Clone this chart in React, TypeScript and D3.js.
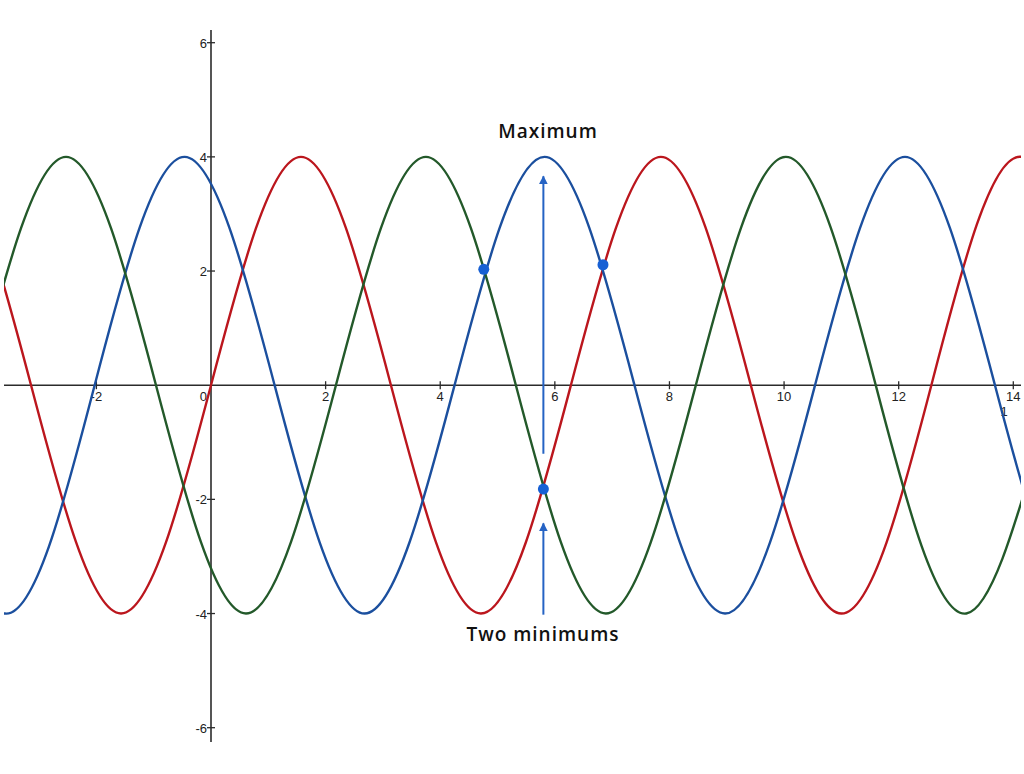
import * as d3 from 'd3';

// key points: peaks, troughs and axis crossings of each wave
const redX = [-6.28, -4.71, -3.14, -1.57, 0, 1.57, 3.14, 4.71, 6.28, 7.85, 9.42, 11.0, 12.57, 14.14, 15.71, 17.28];
const redY = [0, 4, 0, -4, 0, 4, 0, -4, 0, 4, 0, -4, 0, 4, 0, -4];

const blueX = [-6.74, -5.17, -3.6, -2.03, -0.46, 1.11, 2.68, 4.25, 5.82, 7.39, 8.97, 10.54, 12.11, 13.68, 15.25, 16.82];
const blueY = [4, 0, -4, 0, 4, 0, -4, 0, 4, 0, -4, 0, 4, 0, -4, 0];

const greenX = [-7.24, -5.67, -4.1, -2.53, -0.96, 0.61, 2.18, 3.75, 5.32, 6.89, 8.46, 10.03, 11.6, 13.18, 14.75, 16.32];
const greenY = [0, -4, 0, 4, 0, -4, 0, 4, 0, -4, 0, 4, 0, -4, 0, 4];

const dotX = [4.76, 6.84, 5.8];
const dotY = [2.03, 2.11, -1.82];

const xTicks = [-2, 0, 2, 4, 6, 8, 10, 12, 14];
const yTicks = [-6, -4, -2, 2, 4, 6];

// annotation arrows [x, from, to] in data units
const arrows = [
  [5.8, -1.2, 3.66],
  [5.8, -4.02, -2.42],
];

const W = 1024;
const H = 774;

const series = [
  { xs: redX, ys: redY, color: '#bb161d' },
  { xs: blueX, ys: blueY, color: '#1b4f9e' },
  { xs: greenX, ys: greenY, color: '#23592a' },
];

export default function App() {
  const x = d3.scaleLinear().domain([0, 14]).range([211, 1013.3]);
  const y = d3.scaleLinear().domain([-6, 6]).range([727.7, 42.7]);

  const line = d3
    .line<[number, number]>()
    .x(d => x(d[0]))
    .y(d => y(d[1]))
    .curve(d3.curveNatural);

  const axisColor = '#2b2b2b';
  const labelFont = '"Liberation Sans", Arial, sans-serif';
  const noteFont = '"Open Sans", "Noto Sans", sans-serif';

  return (
    <svg width={W} height={H} style={{ position: 'absolute', left: 0, top: 0, background: '#fff' }}>
      <defs>
        <clipPath id="plot">
          <rect x={4} y={0} width={1017} height={H} />
        </clipPath>
        <marker id="head" viewBox="0 0 10 10" refX={9} refY={5} markerWidth={4.5} markerHeight={5} orient="auto">
          <path d="M0,0 L10,5 L0,10 z" fill="#2563c4" />
        </marker>
      </defs>

      {/* axes */}
      <line x1={4} x2={1021} y1={y(0)} y2={y(0)} stroke={axisColor} strokeWidth={1.6} />
      <line x1={x(0)} x2={x(0)} y1={30} y2={742} stroke={axisColor} strokeWidth={1.6} />

      {xTicks.map(t => (
        <g key={`xt${t}`}>
          {t !== 0 && <line x1={x(t)} x2={x(t)} y1={y(0) - 4} y2={y(0) + 4} stroke={axisColor} strokeWidth={1.3} />}
          <text
            x={t === 0 ? x(t) - 4 : x(t)}
            y={y(0) + 16}
            textAnchor={t === 0 ? 'end' : 'middle'}
            fontFamily={labelFont}
            fontSize={13}
            fill="#222"
          >
            {t < 0 ? `-${Math.abs(t)}` : t}
          </text>
        </g>
      ))}
      {yTicks.map(t => (
        <g key={`yt${t}`}>
          <line x1={x(0) - 4} x2={x(0) + 4} y1={y(t)} y2={y(t)} stroke={axisColor} strokeWidth={1.3} />
          <text x={x(0) - 4} y={y(t) + 5} textAnchor="end" fontFamily={labelFont} fontSize={13} fill="#222">
            {t < 0 ? `-${Math.abs(t)}` : t}
          </text>
        </g>
      ))}
      <text x={1004} y={416} textAnchor="middle" fontFamily={labelFont} fontSize={13} fill="#222">1</text>

      {/* waves */}
      <g clipPath="url(#plot)">
        {series.map((s, i) => (
          <path
            key={i}
            d={line(s.xs.map((v, j) => [v, s.ys[j]] as [number, number])) || ''}
            fill="none"
            stroke={s.color}
            strokeWidth={2.4}
          />
        ))}
      </g>

      {/* arrows */}
      {arrows.map((a, i) => (
        <line
          key={`ar${i}`}
          x1={x(a[0])}
          x2={x(a[0])}
          y1={y(a[1])}
          y2={y(a[2])}
          stroke="#2563c4"
          strokeWidth={2}
          markerEnd="url(#head)"
        />
      ))}

      {/* intersection dots */}
      {dotX.map((v, i) => (
        <circle key={`d${i}`} cx={x(v)} cy={y(dotY[i])} r={5.5} fill="#1760d4" />
      ))}

      <text x={548} y={138} textAnchor="middle" fontFamily={noteFont} fontWeight={600} fontSize={19} letterSpacing={1} fill="#111">
        Maximum
      </text>
      <text x={543} y={641} textAnchor="middle" fontFamily={noteFont} fontWeight={600} fontSize={19} letterSpacing={1} fill="#111">
        Two minimums
      </text>
    </svg>
  );
}
